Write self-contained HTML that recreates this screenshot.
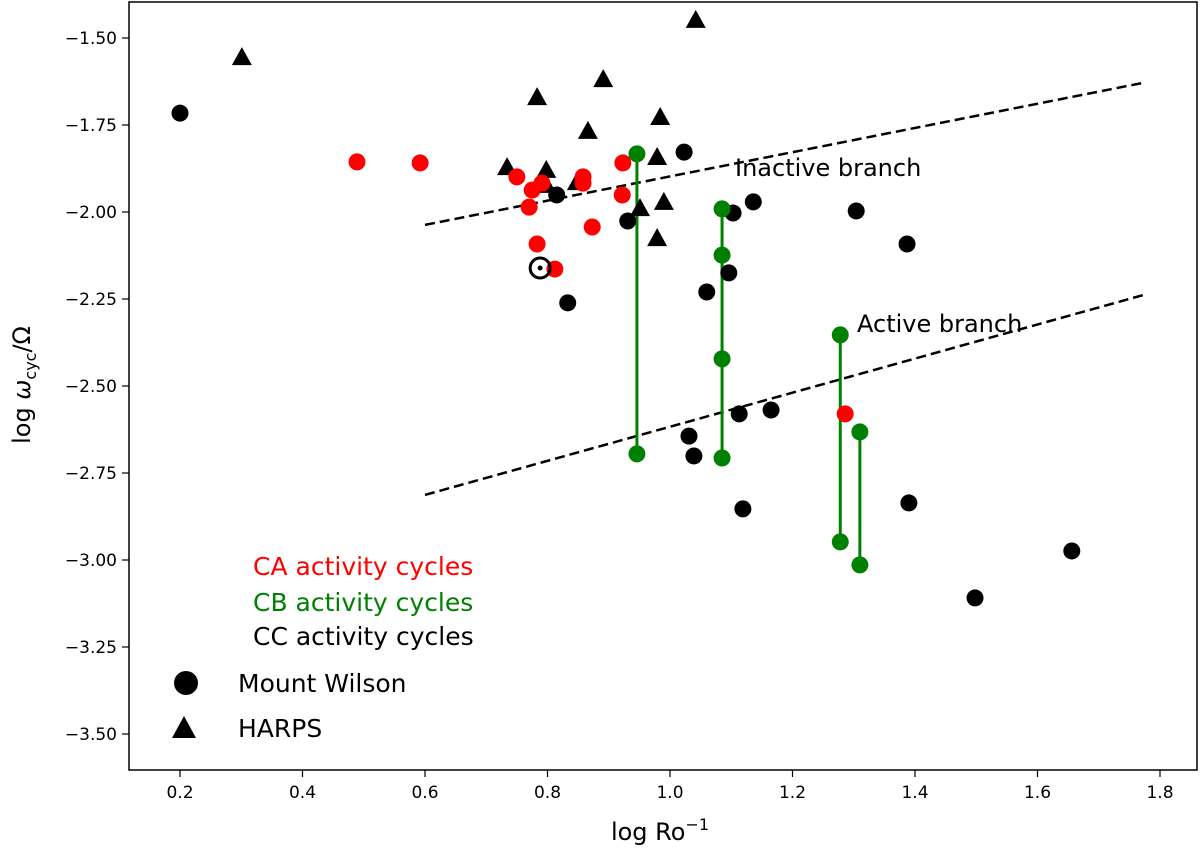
<!DOCTYPE html>
<html><head><meta charset="utf-8"><style>
body{margin:0;background:#fff}
svg text{font-family:"DejaVu Sans","Liberation Sans",sans-serif}
</style></head><body>
<svg id="c" width="1200" height="850" xmlns="http://www.w3.org/2000/svg"></svg>
<script>
const xTicks=[0.2,0.4,0.6,0.8,1.0,1.2,1.4,1.6,1.8];
const xTickLabels=["0.2","0.4","0.6","0.8","1.0","1.2","1.4","1.6","1.8"];
const yTicks=[-1.5,-1.75,-2.0,-2.25,-2.5,-2.75,-3.0,-3.25,-3.5];
const yTickLabels=["\u22121.50","\u22121.75","\u22122.00","\u22122.25","\u22122.50","\u22122.75","\u22123.00","\u22123.25","\u22123.50"];
const ccX=[0.2,0.815,0.833,0.931,1.023,1.103,1.136,1.096,1.060,1.304,1.387,1.031,1.039,1.113,1.165,1.119,1.390,1.498,1.656];
const ccY=[-1.716,-1.951,-2.261,-2.026,-1.828,-2.003,-1.971,-2.175,-2.230,-1.997,-2.092,-2.644,-2.701,-2.580,-2.569,-2.853,-2.836,-3.109,-2.974];
const caX=[0.489,0.592,0.750,0.775,0.770,0.791,0.858,0.858,0.923,0.922,0.873,0.783,0.812,1.286];
const caY=[-1.856,-1.859,-1.899,-1.937,-1.986,-1.917,-1.899,-1.917,-1.859,-1.951,-2.043,-2.092,-2.164,-2.580];
const triX=[0.301,1.042,0.783,0.891,0.866,0.984,0.734,0.798,0.798,0.848,0.979,0.951,0.990,0.979];
const triY=[-1.555,-1.448,-1.670,-1.618,-1.767,-1.727,-1.871,-1.879,-1.922,-1.914,-1.842,-1.989,-1.971,-2.075];
const cbX=[0.946,1.085,1.278,1.310];
const cbY=[[-1.833,-2.695],[-1.991,-2.124,-2.422,-2.707],[-2.353,-2.948],[-2.632,-3.014]];
const sunX=0.788, sunY=-2.161;
const inactiveLine=[[0.6,-2.037],[1.772,-1.629]];
const activeLine=[[0.6,-2.813],[1.772,-2.239]];
const L=129,R=1197,T=2,B=770;
const X=v=>180+(v-0.2)*612.5;
const Y=v=>38+(-1.5-v)*348;
const s=document.getElementById('c');
function el(t,a,txt){const e=document.createElementNS('http://www.w3.org/2000/svg',t);for(const k in a)e.setAttribute(k,a[k]);if(txt!=null)e.textContent=txt;s.appendChild(e);return e;}
let e;
e=el('rect',{x:L,y:T,width:R-L,height:B-T,fill:'none',stroke:'#000','stroke-width':1.5});


xTicks.forEach((v,i)=>{e=el('line',{x1:X(v),x2:X(v),y1:B,y2:B+7,stroke:'#000','stroke-width':1.2});


e=el('text',{x:X(v),y:B+28,'font-size':17,'text-anchor':'middle'},xTickLabels[i]);

});
yTicks.forEach((v,i)=>{e=el('line',{x1:L-7,x2:L,y1:Y(v),y2:Y(v),stroke:'#000','stroke-width':1.2});


e=el('text',{x:L-12,y:Y(v)+6,'font-size':17,'text-anchor':'end'},yTickLabels[i]);

});
e=el('text',{x:660,y:840,'font-size':24,'text-anchor':'middle'});
e.innerHTML='log Ro<tspan dy="-10" font-size="16">\u22121</tspan>';


e=el('text',{transform:'translate(30,385) rotate(-90)','font-size':24,'text-anchor':'middle'});
e.innerHTML='log <tspan font-style="italic">\u03c9</tspan><tspan dy="6" font-size="16">cyc</tspan><tspan dy="-6">/\u03a9</tspan>';


[[inactiveLine,'inactive-branch-line'],[activeLine,'active-branch-line']].forEach(([ln,n])=>{e=el('line',{x1:X(ln[0][0]),y1:Y(ln[0][1]),x2:X(ln[1][0]),y2:Y(ln[1][1]),stroke:'#000','stroke-width':2.5,'stroke-dasharray':'10,5'});

});
e=el('text',{x:735,y:176,'font-size':24},'Inactive branch');


e=el('text',{x:857,y:332,'font-size':24},'Active branch');


cbX.forEach((x,i)=>{const ys=cbY[i];e=el('line',{x1:X(x),x2:X(x),y1:Y(Math.max(...ys)),y2:Y(Math.min(...ys)),stroke:'green','stroke-width':3});

});
function tri(x,y,n){const cx=X(x),cy=Y(y);e=el('polygon',{points:`${cx},${cy-10} ${cx-10},${cy+8} ${cx+10},${cy+8}`,fill:'#000'});

}
triX.forEach((x,i)=>tri(x,triY[i],'harps-point'));
ccX.forEach((x,i)=>{e=el('circle',{cx:X(x),cy:Y(ccY[i]),r:8.5,fill:'#000'});

});
caX.forEach((x,i)=>{e=el('circle',{cx:X(x),cy:Y(caY[i]),r:8.5,fill:'red'});

});
cbX.forEach((x,i)=>cbY[i].forEach(y=>{e=el('circle',{cx:X(x),cy:Y(y),r:8.5,fill:'green'});

}));
e=el('circle',{cx:X(sunX),cy:Y(sunY),r:10,fill:'none',stroke:'#000','stroke-width':3});


e=el('circle',{cx:X(sunX),cy:Y(sunY),r:2.5,fill:'#000'});


[['CA activity cycles','red',575],['CB activity cycles','green',611],['CC activity cycles','#000',645]].forEach(([t,c,y])=>{e=el('text',{x:253,y:y,'font-size':25,fill:c},t);

});
e=el('circle',{cx:186,cy:683,r:12,fill:'#000'});


e=el('polygon',{points:'184,716 172,738 196,738',fill:'#000'});


e=el('text',{x:238,y:692,'font-size':25},'Mount Wilson');


e=el('text',{x:238,y:737,'font-size':25},'HARPS');


</script>
</body></html>
